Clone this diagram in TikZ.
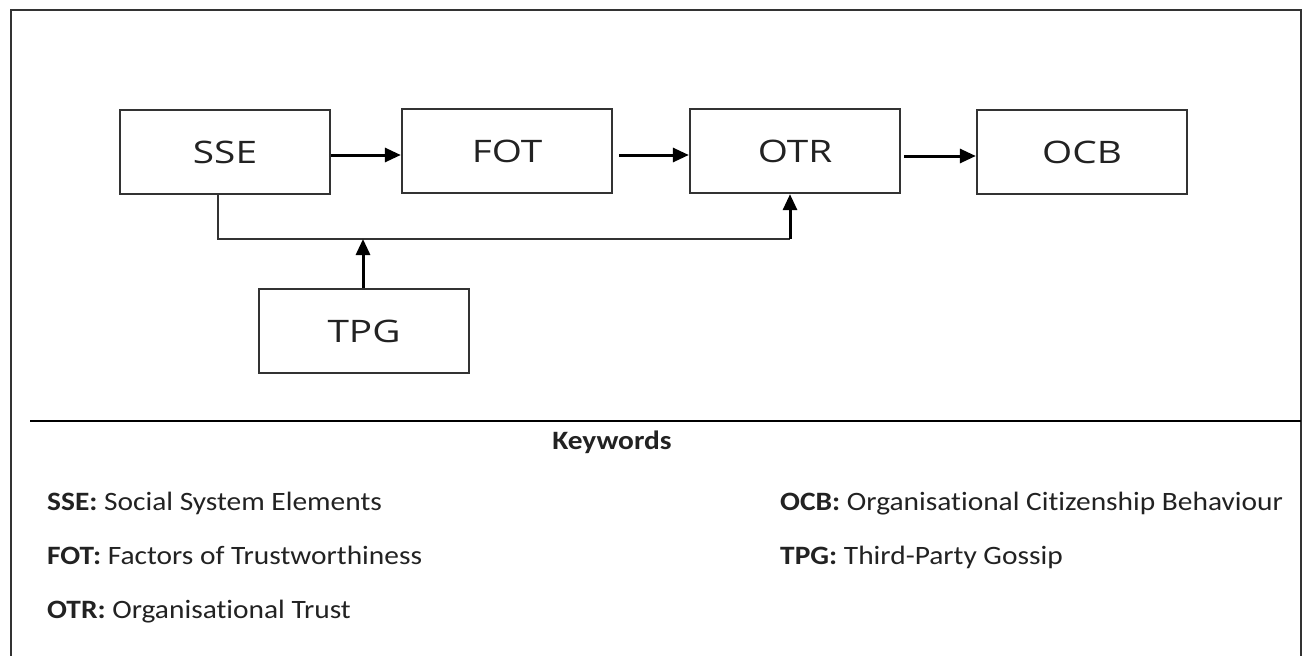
\documentclass[tikz,border=0pt]{standalone}
\usepackage{fontspec}
\setmainfont{Carlito}[FakeStretch=1.11, Ligatures=NoCommon]
\newfontfamily\boxfont{Open Sans}[FakeStretch=1.25]
\usetikzlibrary{arrows.meta}
\definecolor{ink}{HTML}{222222}
\definecolor{edge}{HTML}{333333}
\tikzset{
  blk/.style={draw=edge, line width=2.3pt, minimum width=210pt, minimum height=84pt,
    inner sep=0pt, font=\boxfont\fontsize{31}{34}\selectfont, text=ink},
  arr/.style={draw=black, line width=3pt, -{Triangle[length=16pt,width=14pt]}},
  conn/.style={draw=edge, line width=2.4pt},
  kw/.style={anchor=base west, inner sep=0pt, font=\fontsize{26.5}{29}\selectfont, text=ink},
}
\begin{document}
\begin{tikzpicture}[x=1pt,y=-1pt]
\useasboundingbox (0,0) rectangle (1312,656);
\fill[white] (0,0) rectangle (1312,656);
% outer frame (bottom edge not visible)
\draw[edge, line width=2pt] (11,660) -- (11,10) -- (1301,10) -- (1301,660);
% boxes
\node[blk] (SSE) at (225,152) {SSE};
\node[blk] (FOT) at (507,151) {FOT};
\node[blk] (OTR) at (795,151) {OTR};
\node[blk] (OCB) at (1082,152) {OCB};
\node[blk] (TPG) at (364,331) {TPG};
% connectors
\coordinate (j1) at (218,239);
\coordinate (j2) at (790,239);
\coordinate (j3) at (363,239);
\draw[arr] (SSE.east |- 0,155) -- (FOT.west |- 0,155);
\draw[arr, shorten <=6pt] (FOT.east |- 0,155) -- (OTR.west |- 0,155);
\draw[arr, shorten <=3pt] (OTR.east |- 0,156) -- (OCB.west |- 0,156);
\draw[conn] (SSE.south -| j1) -- (j1) -- (j2);
\draw[arr] (j2) -- (OTR.south -| j2);
\draw[arr] (TPG.north -| j3) -- (j3);
% separator
\coordinate (s1) at (30,421);
\coordinate (s2) at (1301,421);
\draw[black, line width=2pt] (s1) -- (s2);
% keywords
\node[anchor=base, inner sep=0pt, font=\bfseries\fontsize{26.5}{29}\selectfont, text=ink] (kwt) at (612,449) {Keywords};
\node[kw] (k1) at (47,510) {\textbf{SSE:} Social System Elements};
\node[kw] (k2) at (47,564) {\textbf{FOT:} Factors of Trustworthiness};
\node[kw] (k3) at (47,618) {\textbf{OTR:} Organisational Trust};
\node[kw] (k4) at (780,510) {\textbf{OCB:} Organisational Citizenship Behaviour};
\node[kw] (k5) at (780,564) {\textbf{TPG:} Third-Party Gossip};
\end{tikzpicture}
\end{document}
